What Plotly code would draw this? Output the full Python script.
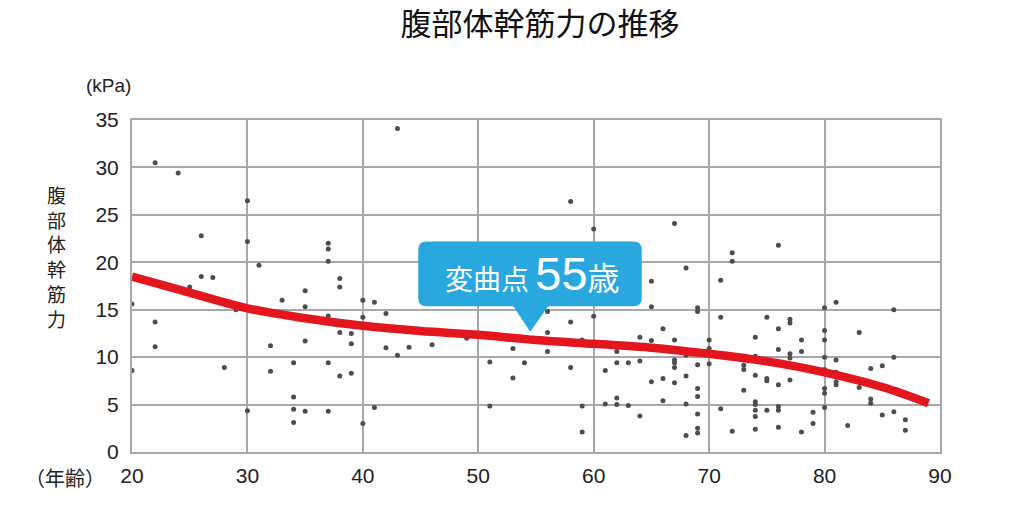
import plotly.graph_objects as go

# ---------------- data ----------------
ages = [20, 20, 22, 22, 22, 24, 25, 26, 26, 27, 28, 29, 30, 30, 30, 31, 32, 32, 33,
        34, 34, 34, 34, 35, 35, 35, 35, 37, 37, 37, 37, 37, 37, 38, 38, 38, 38,
        39, 39, 39, 40, 40, 40, 41, 41, 42, 42, 43, 43, 44, 46, 49, 51, 51, 53, 53,
        54, 56, 56, 56, 58, 58, 58, 59, 59, 59, 60, 60, 61, 61, 62, 62, 62, 62,
        63, 63, 64, 64, 64, 65, 65, 65, 65, 66, 66, 66, 67, 67, 67, 67, 67, 67,
        68, 68, 68, 68, 68, 69, 69, 69, 69, 69, 69, 69, 69, 70, 70, 70, 71, 71, 71,
        72, 72, 72, 73, 73, 73, 74, 74, 74, 74, 74, 74, 74, 74, 75, 75, 75, 75,
        76, 76, 76, 76, 76, 76, 76, 77, 77, 77, 77, 77, 78, 78, 78, 79, 79,
        80, 80, 80, 80, 80, 80, 80, 80, 81, 81, 81, 81, 81, 82, 83, 83, 84, 84, 84,
        85, 85, 86, 86, 86, 87, 87]
strength = [15.6, 8.6, 30.5, 13.7, 11.1, 29.4, 17.4, 22.8, 18.5, 18.4, 8.9, 15.0, 26.5, 22.2, 4.35, 19.7, 11.2, 8.5, 16.0,
            9.4, 5.8, 4.5, 3.1, 17.0, 15.3, 11.7, 4.3, 22.0, 21.4, 20.1, 14.35, 9.4, 4.3, 18.3, 17.4, 12.6, 8.0,
            12.5, 11.4, 8.3, 16.0, 14.2, 3.0, 15.8, 4.7, 14.6, 11.0, 34.1, 10.2, 11.05, 11.3, 12.0, 9.5, 4.85, 10.9, 7.8,
            9.4, 14.8, 12.6, 10.6, 26.4, 13.7, 8.9, 11.8, 4.85, 2.1, 23.5, 14.3, 8.6, 5.05, 10.6, 9.4, 5.7, 5.0,
            9.4, 4.9, 12.1, 9.6, 3.8, 18.0, 15.3, 11.75, 7.4, 13.0, 7.75, 5.4, 24.1, 11.8, 9.7, 9.4, 8.9, 7.3,
            19.4, 10.2, 8.0, 5.05, 1.75, 15.2, 14.8, 9.2, 6.7, 5.85, 4.0, 2.5, 2.0, 11.8, 10.9, 9.3, 18.1, 14.2, 4.55,
            21.0, 20.1, 2.2, 9.15, 8.7, 6.5, 12.1, 10.1, 8.1, 5.3, 5.0, 4.4, 3.75, 2.4, 14.2, 7.75, 7.5, 4.4,
            21.8, 13.0, 10.8, 7.1, 4.8, 4.4, 2.6, 14.0, 13.6, 10.35, 9.9, 7.6, 11.8, 10.6, 2.1, 4.2, 3.0,
            15.2, 12.8, 11.8, 10.0, 8.7, 6.7, 6.2, 4.7, 15.8, 9.7, 8.4, 7.4, 7.1, 2.8, 12.6, 6.8, 8.8, 5.6, 5.15,
            9.1, 3.9, 15.0, 10.0, 4.25, 3.4, 2.3]

trend_ages = [20, 25, 30, 35, 40, 45, 50, 55, 60, 65, 70, 75, 80, 85, 89]
trend_values = [18.5, 16.8, 15.15, 14.1, 13.3, 12.75, 12.35, 11.8, 11.4, 11.0, 10.35, 9.55, 8.4, 6.85, 5.15]

x_ticks = [20, 30, 40, 50, 60, 70, 80, 90]
y_ticks = [0, 5, 10, 15, 20, 25, 30, 35]

inflection_age = 55
title_text = "腹部体幹筋力の推移"
y_title = "腹部体幹筋力"
y_unit = "(kPa)"
x_unit = "（年齢）"

# ---------------- style ----------------
GRID = "#a8a8a8"
NUM_FONT = "Liberation Sans, Arial, sans-serif"
JP_FONT = "Noto Sans CJK JP, sans-serif"
BLUE = "#29a8e0"
RED = "#e3161d"
FIG_W, FIG_H = 1000, 495

fig = go.Figure()
fig.add_trace(go.Scatter(x=ages, y=strength, mode="markers",
                         marker=dict(size=5, color="#4d4d4d"),
                         hoverinfo="skip", showlegend=False))
fig.add_trace(go.Scatter(x=trend_ages, y=trend_values, mode="lines",
                         line=dict(color=RED, width=8.5, shape="spline", smoothing=1.0),
                         hoverinfo="skip", showlegend=False))

# callout box (rounded rect + pointer) around inflection point
bx0, bx1 = inflection_age - 10.2, inflection_age + 9.16
by0, by1 = 15.37, 22.2
rx, ry = 0.7, 0.85
tip_x, tip_y = inflection_age - 0.5, 12.67
base_l, base_r = inflection_age - 1.97, inflection_age + 1.06
path = (f"M {bx0+rx},{by1} L {bx1-rx},{by1} Q {bx1},{by1} {bx1},{by1-ry} "
        f"L {bx1},{by0+ry} Q {bx1},{by0} {bx1-rx},{by0} "
        f"L {base_r},{by0} L {tip_x},{tip_y} L {base_l},{by0} "
        f"L {bx0+rx},{by0} Q {bx0},{by0} {bx0},{by0+ry} "
        f"L {bx0},{by1-ry} Q {bx0},{by1} {bx0+rx},{by1} Z")
fig.add_shape(type="path", path=path, xref="x", yref="y",
              fillcolor=BLUE, line=dict(width=0), layer="above")

fig.add_annotation(x=(bx0 + bx1) / 2 + 0.2, y=(by0 + by1) / 2, xref="x", yref="y",
                   text=('<span style="font-size:28px">変曲点</span> '
                         f'<span style="font-size:47px;font-family:Liberation Sans, Arial">{inflection_age}</span>'
                         '<span style="font-size:32px">歳</span>'),
                   showarrow=False, font=dict(family=JP_FONT, color="white", size=28),
                   xanchor="center", yanchor="middle")

# unit labels
fig.add_annotation(x=0, y=1, xref="paper", yref="paper", xshift=-24, yshift=35,
                   xanchor="center", yanchor="middle",
                   text=y_unit, showarrow=False,
                   font=dict(family=NUM_FONT, size=19, color="#222"))
fig.add_annotation(x=0, y=0, xref="paper", yref="paper", xshift=-67, yshift=-25,
                   xanchor="center", yanchor="middle",
                   text=x_unit, showarrow=False,
                   font=dict(family=JP_FONT, size=20, color="#222"))

# vertical y-axis title (stacked characters)
fig.add_annotation(x=0, y=1, xref="paper", yref="paper",
                   xshift=-76, yshift=-136,
                   xanchor="center", yanchor="middle",
                   text="<br>".join(y_title), showarrow=False,
                   font=dict(family=JP_FONT, size=19, color="#222"))

# page body has an 8px margin, so the figure is sized to fit inside the window
fig.update_layout(
    width=FIG_W, height=FIG_H,
    margin=dict(l=124, r=68, t=112, b=51),
    paper_bgcolor="white", plot_bgcolor="white",
    title=dict(text=title_text, x=0.505, xref="paper", xanchor="center",
               y=1 - 16 / FIG_H, yref="container", yanchor="middle",
               font=dict(family=JP_FONT, size=31, color="#111")),
    xaxis=dict(range=[20, 90], tickvals=x_ticks, showgrid=True, gridcolor=GRID, gridwidth=2,
               showline=True, linecolor=GRID, linewidth=2, mirror=True, zeroline=False,
               ticks="", ticklabelstandoff=4,
               tickfont=dict(family=NUM_FONT, size=21, color="#222")),
    yaxis=dict(range=[0, 35], tickvals=y_ticks, showgrid=True, gridcolor=GRID, gridwidth=2,
               showline=True, linecolor=GRID, linewidth=2, mirror=True, zeroline=False,
               ticks="", ticklabelstandoff=7,
               tickfont=dict(family=NUM_FONT, size=21, color="#222")),
)

fig.write_html("out.html")
